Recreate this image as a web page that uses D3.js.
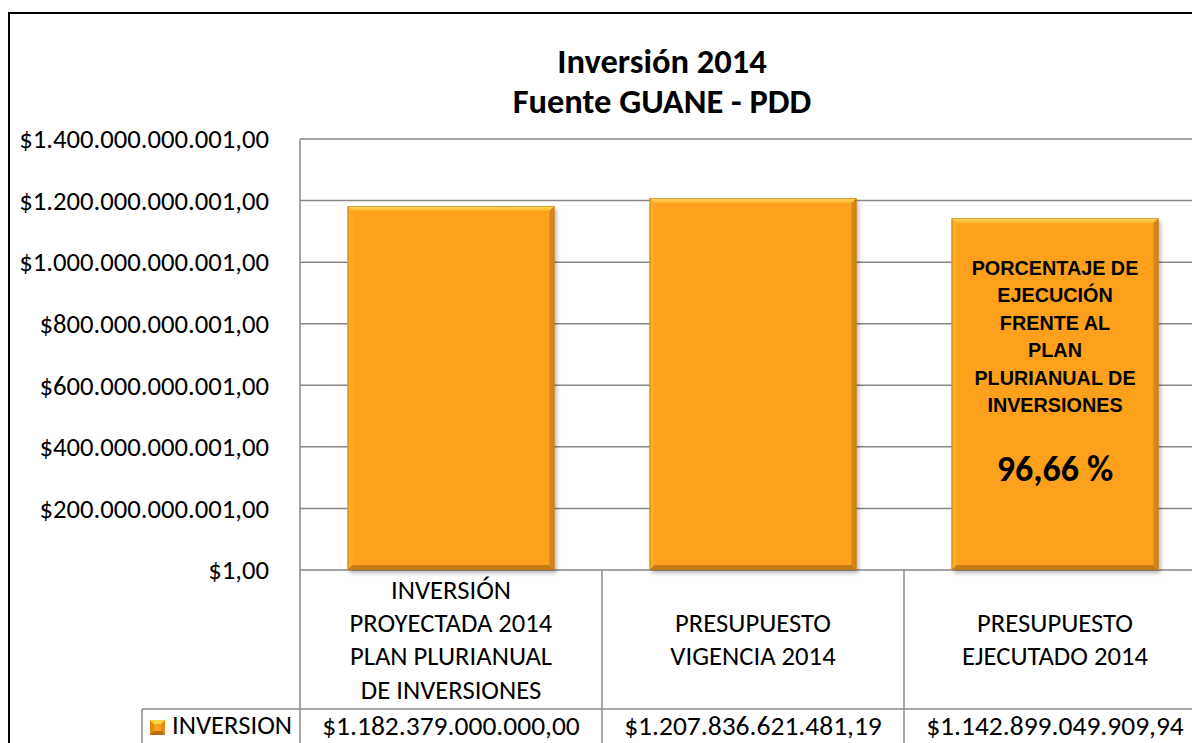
<!DOCTYPE html>
<html>
<head>
<meta charset="utf-8">
<script src="https://cdn.jsdelivr.net/npm/d3@7"></script>
<style>
  body { margin: 0; background: #fff; }
  text { font-family: Calibri, Carlito, "Open Sans", sans-serif; fill: #000; }
</style>
</head>
<body>
<svg id="chart" width="1192" height="743"></svg>
<script>
// chart data
const categories = [
  "INVERSIÓN PROYECTADA 2014 PLAN PLURIANUAL DE INVERSIONES",
  "PRESUPUESTO VIGENCIA 2014",
  "PRESUPUESTO EJECUTADO 2014"
];
const categoryLines = [
  ["INVERSIÓN", "PROYECTADA 2014", "PLAN PLURIANUAL", "DE INVERSIONES"],
  ["PRESUPUESTO", "VIGENCIA 2014"],
  ["PRESUPUESTO", "EJECUTADO 2014"]
];
const seriesName = "INVERSION";
const inversion = [1182379000000.00, 1207836621481.19, 1142899049909.94];
const yTicks = [1, 200000000001, 400000000001, 600000000001, 800000000001,
  1000000000001, 1200000000001, 1400000000001];
const titleLines = ["Inversión 2014", "Fuente GUANE - PDD"];
const noteLines = ["PORCENTAJE DE", "EJECUCIÓN", "FRENTE AL", "PLAN", "PLURIANUAL DE", "INVERSIONES"];

const svg = d3.select("#chart"),
  width = +svg.attr("width"),
  height = +svg.attr("height");

const locale = d3.formatLocale({ decimal: ",", thousands: ".", grouping: [3], currency: ["$", ""] });
const money = locale.format("$,.2f");
const num = locale.format(",.2f");

const plot = { left: 300, right: 1206, top: 139, bottom: 570 };
const tableRow = 709;
const fs = "26.67px";

const y = d3.scaleLinear().domain([1, yTicks[yTicks.length - 1]]).range([plot.bottom, plot.top]);
const x = d3.scaleBand().domain(categories).range([plot.left, plot.right])
  .paddingInner(0.315).paddingOuter(0.1575);
const step = x.step();

svg.append("rect").attr("width", width).attr("height", height).attr("fill", "#fff");

// outer chart frame (cropped on right/bottom)
svg.append("rect").attr("x", 9).attr("y", 13).attr("width", 1400).attr("height", 900)
  .attr("fill", "none").attr("stroke", "#000").attr("stroke-width", 2);

// title
svg.append("g").selectAll("text").data(titleLines).join("text")
  .attr("x", 662).attr("y", (d, i) => 73 + i * 40)
  .attr("text-anchor", "middle").style("font-weight", "bold").style("font-size", "34.5px")
  .text(d => d);

// gridlines
svg.append("g").selectAll("line").data(yTicks).join("line")
  .attr("x1", plot.left).attr("x2", plot.right)
  .attr("y1", d => y(d)).attr("y2", d => y(d))
  .attr("stroke", "#878787").attr("stroke-width", 1.5);

// y labels
svg.append("g").selectAll("text").data(yTicks).join("text")
  .attr("x", 269).attr("y", d => y(d)).attr("dy", "0.35em")
  .attr("text-anchor", "end").style("font-size", fs)
  .text(d => money(d));

// defs: gradient + shadow
const defs = svg.append("defs");
const tg = defs.append("linearGradient").attr("id", "topBevel").attr("x1", 0).attr("y1", 0).attr("x2", 0).attr("y2", 1);
tg.append("stop").attr("offset", "0%").attr("stop-color", "#ffe46a");
tg.append("stop").attr("offset", "100%").attr("stop-color", "#fdb02a");
const f = defs.append("filter").attr("id", "shadow").attr("x", "-10%").attr("y", "-10%").attr("width", "130%").attr("height", "130%");
f.append("feGaussianBlur").attr("stdDeviation", 2);

const bars = svg.append("g").selectAll("g").data(inversion).join("g");
const b = 5;
bars.append("rect")
  .attr("x", (d, i) => x(categories[i]) + 2).attr("y", d => y(d) + 3)
  .attr("width", x.bandwidth()).attr("height", d => plot.bottom - y(d))
  .attr("fill", "#000").attr("opacity", 0.3).attr("filter", "url(#shadow)");
bars.append("rect")
  .attr("x", (d, i) => x(categories[i])).attr("y", d => y(d))
  .attr("width", x.bandwidth()).attr("height", d => plot.bottom - y(d))
  .attr("fill", "#fda11c");
function bevel(sel, fill, pts) {
  sel.append("polygon").attr("fill", fill).attr("points", (d, i) => {
    const x0 = x(categories[i]), x1 = x0 + x.bandwidth(), y0 = y(d), y1 = plot.bottom;
    return pts(x0, x1, y0, y1).map(p => p.join(",")).join(" ");
  });
}
bevel(bars, "url(#topBevel)", (x0, x1, y0, y1) => [[x0, y0], [x1, y0], [x1 - b, y0 + b], [x0 + b, y0 + b]]);
bevel(bars, "#fdaa26", (x0, x1, y0, y1) => [[x0, y0], [x0 + b, y0 + b], [x0 + b, y1 - b], [x0, y1]]);
bevel(bars, "#d38619", (x0, x1, y0, y1) => [[x1, y0], [x1, y1], [x1 - b, y1 - b], [x1 - b, y0 + b]]);
bevel(bars, "#c87c16", (x0, x1, y0, y1) => [[x0, y1], [x1, y1], [x1 - b, y1 - b], [x0 + b, y1 - b]]);
bars.append("rect")
  .attr("x", (d, i) => x(categories[i]) + 0.5).attr("y", d => y(d) + 0.5)
  .attr("width", x.bandwidth() - 1).attr("height", d => plot.bottom - y(d) - 1)
  .attr("fill", "none").attr("stroke", "#b8761a").attr("stroke-width", 1).attr("opacity", 0.6);

// note on third bar
const cx3 = x(categories[2]) + x.bandwidth() / 2;
const top3 = y(inversion[2]);
svg.append("g").selectAll("text").data(noteLines).join("text")
  .attr("x", cx3).attr("y", (d, i) => top3 + 50 + i * 27.4).attr("dy", "0.35em")
  .attr("text-anchor", "middle")
  .style("font-family", "'Liberation Sans', Arial, sans-serif")
  .style("font-weight", "bold").style("font-size", "19.8px")
  .text(d => d);
const pct = inversion[2] / inversion[0] * 100;
svg.append("text").attr("x", cx3).attr("y", top3 + 250).attr("dy", "0.35em")
  .attr("text-anchor", "middle").style("font-weight", "bold").style("font-size", "36px")
  .text(num(pct) + " %");

// data table
const grid = svg.append("g").attr("stroke", "#8a8a8a").attr("stroke-width", 1.5);
grid.append("line").attr("x1", plot.left).attr("x2", plot.left).attr("y1", plot.top).attr("y2", height);
grid.selectAll(".v").data(categories).join("line").attr("class", "v")
  .attr("x1", d => x(d) - x.step() * 0.1575 + step).attr("x2", d => x(d) - x.step() * 0.1575 + step)
  .attr("y1", plot.bottom).attr("y2", height);
grid.append("line").attr("x1", 142).attr("x2", plot.right).attr("y1", tableRow).attr("y2", tableRow);
grid.append("line").attr("x1", 142).attr("x2", 142).attr("y1", tableRow).attr("y2", height);

const cats = svg.append("g").selectAll("g").data(categoryLines).join("g");
cats.selectAll("text").data(d => d.map((t, j) => ({ t, j, n: d.length }))).join("text")
  .attr("x", function () {
    const i = categoryLines.indexOf(d3.select(this.parentNode).datum());
    return x(categories[i]) + x.bandwidth() / 2;
  })
  .attr("y", d => (plot.bottom + tableRow) / 2 + (d.j - (d.n - 1) / 2) * 33.3)
  .attr("dy", "0.35em").attr("text-anchor", "middle").style("font-size", fs)
  .text(d => d.t);

svg.append("g").selectAll("text").data(inversion).join("text")
  .attr("x", (d, i) => x(categories[i]) + x.bandwidth() / 2).attr("y", 725).attr("dy", "0.35em")
  .attr("text-anchor", "middle").style("font-size", "27.5px")
  .text(d => money(d));

// legend key + series name
const key = svg.append("g");
key.append("rect").attr("x", 150).attr("y", 720).attr("width", 15).attr("height", 15).attr("fill", "#e38a14");
key.append("polygon").attr("points", "150,720 165,720 161,724 154,724").attr("fill", "#ffd54a");
key.append("rect").attr("x", 154).attr("y", 724).attr("width", 7).attr("height", 7).attr("fill", "#fda11c");
key.append("polygon").attr("points", "150,735 165,735 161,731 154,731").attr("fill", "#b86e10");
svg.append("text").attr("x", 172).attr("y", 725).attr("dy", "0.35em").style("font-size", fs).text(seriesName);
</script>
</body>
</html>
